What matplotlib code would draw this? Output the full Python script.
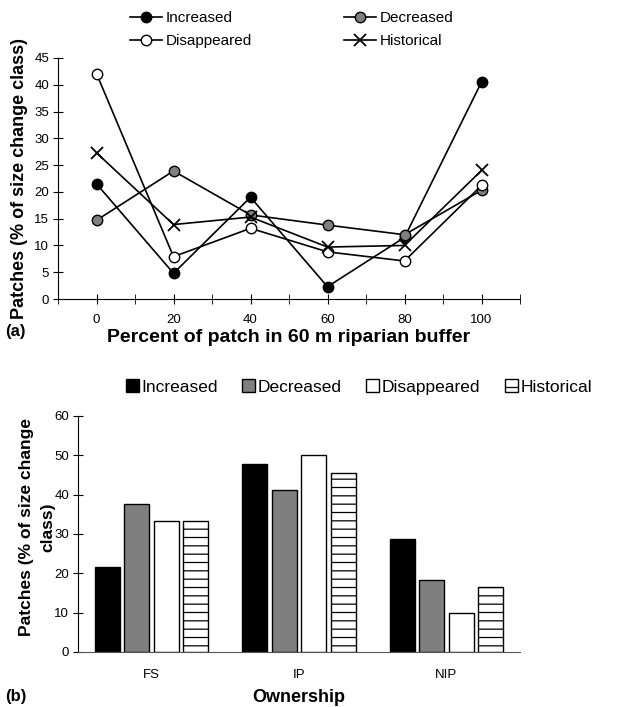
import numpy as np
import matplotlib.pyplot as plt

plt.rcParams['font.family'] = ['Liberation Sans', 'DejaVu Sans']
plt.rcParams['hatch.linewidth'] = 0.9

# (a) riparian buffer data
buffer_pct = [0, 20, 40, 60, 80, 100]
increased_a = [21.5, 4.8, 19.0, 2.3, 11.5, 40.5]
decreased_a = [14.7, 23.9, 15.7, 13.8, 12.0, 20.3]
disappeared_a = [42.1, 7.9, 13.2, 8.8, 7.1, 21.2]
historical_a = [27.3, 13.9, 15.3, 9.7, 10.0, 24.0]

# (b) ownership data
owners = ['FS', 'IP', 'NIP']
increased_b = [21.5, 47.7, 28.7]
decreased_b = [37.6, 41.3, 18.4]
disappeared_b = [33.4, 50.0, 9.8]
historical_b = [33.3, 45.6, 16.6]

W, H = 639, 707
fig = plt.figure(figsize=(W / 100, H / 100), dpi=100)

# ---- panel (a)
ax1 = fig.add_axes([58 / W, 1 - 299 / H, 462 / W, 241 / H])
l_inc, = ax1.plot(buffer_pct, increased_a, color='black', marker='o', ms=7.5, mfc='black', mec='black', lw=1.2)
l_dec, = ax1.plot(buffer_pct, decreased_a, color='black', marker='o', ms=7.5, mfc='#7f7f7f', mec='black', lw=1.2)
l_dis, = ax1.plot(buffer_pct, disappeared_a, color='black', marker='o', ms=7.5, mfc='white', mec='black', lw=1.2)
l_his, = ax1.plot(buffer_pct, historical_a, color='black', marker='x', ms=8, mew=1.3, lw=1.2)
ax1.set_xlim(-10, 110)
ax1.set_ylim(0, 45)
ax1.set_xticks(np.arange(0, 101, 20))
ax1.set_xticks(np.arange(-10, 111, 20), minor=True)
ax1.set_yticks(np.arange(0, 46, 5))
ax1.tick_params(axis='both', which='both', direction='inout', length=7, labelsize=9.5, pad=3)
ax1.tick_params(axis='x', pad=7)
ax1.spines['top'].set_visible(False)
ax1.spines['right'].set_visible(False)
ax1.set_xlabel('Percent of patch in 60 m riparian buffer', fontsize=14, fontweight='bold', va='center')
ax1.xaxis.set_label_coords(0.5, -(337 - 299) / 241)
ax1.set_ylabel('Patches (% of size change class)', fontsize=13, fontweight='bold', va='center')
ax1.yaxis.set_label_coords((20 - 58) / 462, 0.5)
# legend fills column-wise, so order gives rows: Increased/Decreased, Disappeared/Historical
fig.legend([l_inc, l_dis, l_dec, l_his], ['Increased', 'Disappeared', 'Decreased', 'Historical'],
           ncol=2, loc='center left', bbox_to_anchor=(130 / W, 1 - 29.5 / H), frameon=False, fontsize=11,
           handlelength=2.1, handletextpad=0.25, columnspacing=6.0, labelspacing=0.6,
           borderpad=0, borderaxespad=0)
fig.text(5 / W, 1 - 331 / H, '(a)', fontsize=12, fontweight='bold', va='center')

# ---- panel (b)
ax2 = fig.add_axes([78 / W, 1 - 652 / H, 442 / W, 236 / H])
x = np.arange(len(owners))
w = 0.17
step = 0.2
series = [(increased_b, 'black', '', 'Increased'),
          (decreased_b, '#7f7f7f', '', 'Decreased'),
          (disappeared_b, 'white', '', 'Disappeared'),
          (historical_b, 'white', '--', 'Historical')]
for i, (vals, col, hatch, lab) in enumerate(series):
    ax2.bar(x + (i - 1.5) * step, vals, width=w, color=col, edgecolor='black', hatch=hatch, lw=1.0, label=lab)
ax2.set_xlim(-0.5, 2.5)
ax2.set_ylim(0, 60)
ax2.set_xticks(x)
ax2.set_xticklabels(owners)
ax2.set_yticks(np.arange(0, 61, 10))
ax2.tick_params(axis='y', direction='inout', length=7, labelsize=9.5, pad=3)
ax2.tick_params(axis='x', length=0, pad=12, labelsize=9.5)
ax2.spines['top'].set_visible(False)
ax2.spines['right'].set_visible(False)
ax2.spines['bottom'].set_color('#555555')
ax2.set_xlabel('Ownership', fontsize=13, fontweight='bold', va='center')
ax2.xaxis.set_label_coords(0.5, -(698 - 652) / 236)
ax2.set_ylabel('Patches (% of size change\nclass)', fontsize=12.5, fontweight='bold', va='center', linespacing=1.55)
ax2.yaxis.set_label_coords((37 - 78) / 442, 0.53)
fig.legend(*ax2.get_legend_handles_labels(), ncol=4, loc='center left', bbox_to_anchor=(126 / W, 1 - 387 / H),
           frameon=False, fontsize=12.5, handlelength=0.75, handleheight=0.75, handletextpad=0.15,
           columnspacing=1.4, borderpad=0, borderaxespad=0)
fig.text(5 / W, 1 - 697 / H, '(b)', fontsize=12, fontweight='bold', va='center')

fig.savefig('out.png', dpi=100)
